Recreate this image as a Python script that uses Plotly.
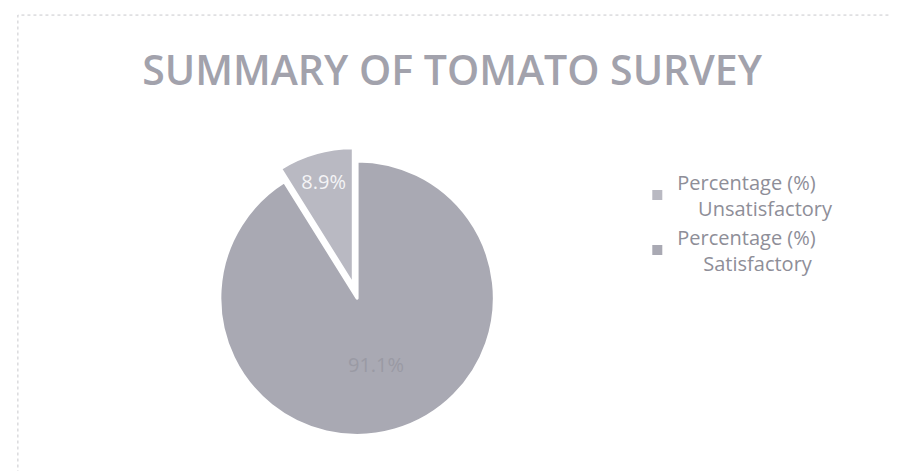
import plotly.graph_objects as go

nb = "\u00a0"
labels = ["Percentage (%)<br>" + nb * 4 + "Unsatisfactory", "Percentage (%)<br>" + nb * 5 + "Satisfactory"]
values = [8.9, 91.1]
text_labels = ["8.9%", "91.1%"]
colors = ["#b9b9c2", "#a9a9b3"]
pulls = [0.1, 0]

fig = go.Figure()
fig.add_trace(go.Pie(
    labels=labels,
    values=values,
    text=text_labels,
    textinfo="text",
    textposition="inside",
    insidetextorientation="horizontal",
    insidetextfont=dict(family="Open Sans", size=20, color=["#f4f4f6", "#9a9aa4"]),
    marker=dict(colors=colors, line=dict(color="white", width=3)),
    pull=pulls,
    direction="clockwise",
    rotation=-32.04,
    sort=False,
    hole=0,
    domain=dict(x=[0.2203, 0.5563], y=[0.0635, 0.7045]),
))

fig.update_layout(
    width=899, height=471,
    margin=dict(l=0, r=0, t=0, b=0),
    paper_bgcolor="white",
    plot_bgcolor="white",
    title=dict(text="SUMMARY OF TOMATO SURVEY", x=0.494, xanchor="center", y=0.868, yanchor="middle",
               font=dict(family="Open Sans", size=41, weight=600, color="#a2a2ac")),
    legend=dict(x=0.70, y=0.672, xanchor="left", yanchor="top",
                font=dict(family="Open Sans", size=20, color="#8e8e98"),
                itemsizing="constant"),
    showlegend=True,
    shapes=[dict(type="rect", xref="paper", yref="paper", x0=0.011, x1=0.998, y0=0.0, y1=0.985,
                 line=dict(color="#c8c8cc", width=1, dash="dot"))],
)

fig.write_html("out.html")
